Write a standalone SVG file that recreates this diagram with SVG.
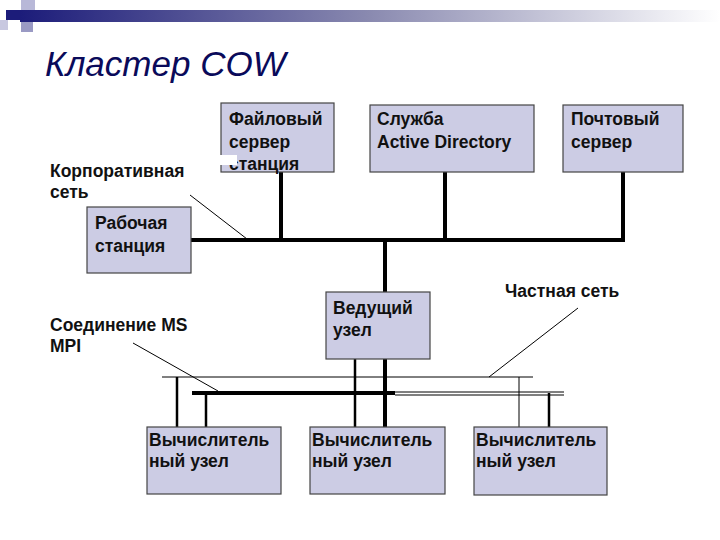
<svg xmlns="http://www.w3.org/2000/svg" width="720" height="540" viewBox="0 0 720 540">
<defs>
<linearGradient id="bar" x1="0" x2="1" y1="0" y2="0">
<stop offset="0" stop-color="#1c1c7a"/><stop offset="0.5" stop-color="#8a8ab0"/><stop offset="1" stop-color="#ffffff"/>
</linearGradient>
<style>
.box{fill:#cccce4;stroke:#444;stroke-width:1.2}
.t{font-family:"Liberation Sans",Arial,sans-serif;font-size:17.5px;font-weight:bold;fill:#111}
.thick{stroke:#000;stroke-width:4;fill:none}
.med{stroke:#000;stroke-width:2.5;fill:none}
.thin{stroke:#000;stroke-width:1;fill:none}
</style>
</defs>
<rect width="720" height="540" fill="#fff"/>
<rect x="20" y="10" width="700" height="12" fill="url(#bar)"/>
<rect x="21" y="0" width="14" height="10" fill="#b8b8d8"/>
<rect x="6" y="10" width="14" height="10" fill="#1c1c7a"/>
<rect x="0" y="20" width="8" height="10" fill="#c8c8e0"/>
<rect x="21" y="22" width="12" height="10" fill="#9a9ac4"/>
<text x="45" y="76" font-family="Liberation Sans,Arial,sans-serif" font-size="35" font-style="italic" fill="#0a0a5a">Кластер COW</text>

<g id="connectors">
<line class="thick" x1="191" y1="240" x2="625" y2="240"/>
<line class="thick" x1="281" y1="172" x2="281" y2="240"/>
<line class="thick" x1="445" y1="172" x2="445" y2="240"/>
<line class="thick" x1="623" y1="172" x2="623" y2="240"/>
<line class="thick" x1="385" y1="240" x2="385" y2="427"/>
<line class="thin" x1="162" y1="377" x2="533" y2="377"/>
<line class="med" x1="177" y1="377" x2="177" y2="427"/>
<line class="thin" x1="519" y1="377" x2="519" y2="427"/>
<line class="med" x1="355" y1="359" x2="355" y2="427"/>
<line class="thick" x1="192" y1="393" x2="395" y2="393"/>
<line class="thin" x1="395" y1="392" x2="564" y2="392"/>
<line class="thin" x1="395" y1="395" x2="564" y2="395"/>
<line class="med" x1="206" y1="393" x2="206" y2="427"/>
<line class="med" x1="549" y1="393" x2="549" y2="427"/>
<line class="thin" stroke-width="0.7" x1="190" y1="195" x2="247" y2="239"/>
<line class="thin" stroke-width="0.7" x1="133" y1="343" x2="218" y2="391"/>
<line class="thin" stroke-width="0.7" x1="578" y1="308" x2="489" y2="377"/>
</g>

<g id="file"><rect class="box" x="221" y="103" width="113" height="69"/>
<text class="t" x="229" y="125">Файловый</text><text class="t" x="229" y="148">сервер</text><text class="t" x="229" y="170">станция</text>
<rect x="219" y="155" width="18" height="10" fill="#fff"/></g>
<g id="ad"><rect class="box" x="370" y="105" width="164" height="67"/>
<text class="t" x="377" y="125">Служба</text><text class="t" x="377" y="148">Active Directory</text></g>
<g id="mail"><rect class="box" x="563" y="105" width="120" height="67"/>
<text class="t" x="571" y="125">Почтовый</text><text class="t" x="571" y="148">сервер</text></g>
<g id="corp"><text class="t" x="50" y="177">Корпоративная</text><text class="t" x="50" y="198">сеть</text></g>
<g id="ws"><rect class="box" x="87" y="207" width="104" height="66"/>
<text class="t" x="95" y="229">Рабочая</text><text class="t" x="95" y="252">станция</text></g>
<g id="head"><rect class="box" x="326" y="292" width="104" height="67"/>
<text class="t" x="333" y="314">Ведущий</text><text class="t" x="333" y="336">узел</text></g>
<g id="private"><text class="t" x="505" y="297">Частная сеть</text></g>
<g id="mpi"><text class="t" x="50" y="331">Соединение MS</text><text class="t" x="50" y="352">MPI</text></g>
<g id="c1"><rect class="box" x="147" y="427" width="134" height="67"/>
<text class="t" x="149" y="446">Вычислитель</text><text class="t" x="149" y="467">ный узел</text></g>
<g id="c2"><rect class="box" x="310" y="427" width="135" height="67"/>
<text class="t" x="312" y="446">Вычислитель</text><text class="t" x="312" y="467">ный узел</text></g>
<g id="c3"><rect class="box" x="474" y="427" width="133" height="68"/>
<text class="t" x="476" y="446">Вычислитель</text><text class="t" x="476" y="467">ный узел</text></g>
</svg>
